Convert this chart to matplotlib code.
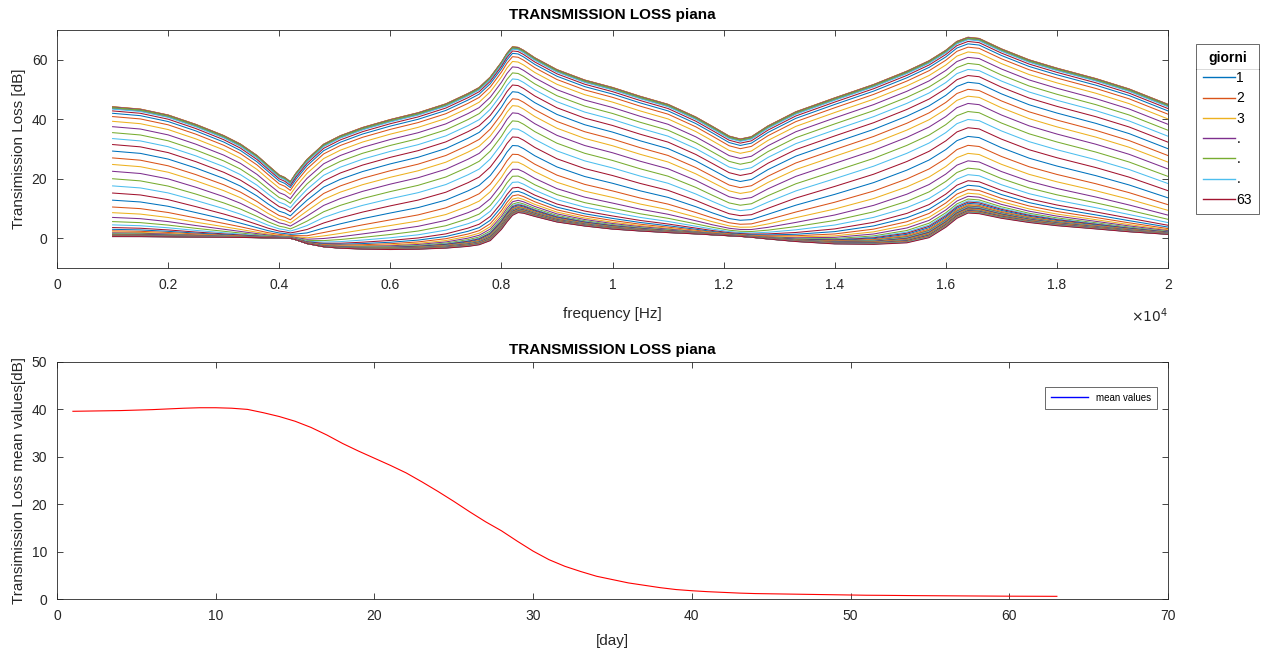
import numpy as np
import matplotlib
matplotlib.use('Agg')
import matplotlib.pyplot as plt
from matplotlib.lines import Line2D
from matplotlib.ticker import FuncFormatter

plt.rcParams['font.family'] = ['Liberation Sans', 'DejaVu Sans']

# frequency grid (Hz) and the two envelopes of the family of curves
freq_hz = [1000, 1500, 2000, 2500, 3000, 3300, 3600, 3800, 4000, 4100, 4200, 4300,
           4500, 4800, 5100, 5500, 6000, 6500, 7000, 7400, 7600, 7800, 8000, 8100,
           8200, 8300, 8400, 8600, 9000, 9500, 10000, 10500, 11000, 11500, 11800,
           12100, 12300, 12500, 12800, 13300, 14000, 14700, 15300, 15700, 16000,
           16200, 16400, 16600, 17000, 17500, 18000, 18700, 19300, 20000]

# day 1 curve (highest)
tl_top = [44.0, 43.2, 41.2, 38.0, 34.2, 31.3, 27.3, 23.8, 20.3, 19.4, 17.8, 21.0,
          26.0, 31.3, 34.2, 37.0, 39.7, 42.0, 45.0, 48.5, 50.5, 54.0, 59.0, 62.0,
          64.2, 64.0, 63.0, 60.5, 56.5, 53.0, 50.5, 47.5, 44.8, 40.5, 37.3,
          34.0, 33.0, 33.8, 37.5, 42.3, 47.0, 51.5, 56.0, 59.5, 63.0,
          66.0, 67.4, 67.0, 63.5, 59.8, 57.0, 53.5, 50.0, 44.8]

# day 63 curve (lowest)
tl_bottom = [0.45, 0.45, 0.4, 0.35, 0.3, 0.25, 0.2, 0.15, 0.1, 0.05, 0.0, -0.5,
             -1.8, -2.9, -3.4, -3.7, -3.9, -3.8, -3.5, -3.0, -2.5, -1.2, 2.5, 5.0,
             7.2, 8.2, 8.0, 7.0, 5.2, 3.9, 2.9, 2.3, 1.8, 1.4, 1.1,
             0.8, 0.6, 0.3, -0.3, -1.2, -2.1, -2.4, -2.1, -0.5, 3.0,
             6.0, 7.8, 7.6, 6.2, 4.9, 3.9, 2.9, 2.0, 1.2]

# level of each day's curve at 1000 Hz
tl_at_1khz = [43.6, 43.65, 43.7, 43.75, 43.85, 43.95, 44.05, 44.15, 44.2, 44.2,
              44.1, 43.9, 43.4, 42.8, 42.0, 40.9, 39.3, 37.5, 35.5, 33.5,
              31.5, 29.3, 27.0, 24.8, 22.5, 20.0, 17.6, 15.2, 12.8, 10.5,
              8.6, 7.0, 5.6, 4.5, 3.6, 3.0, 2.5, 2.1, 1.8, 1.55,
              1.4, 1.3, 1.2, 1.1, 1.05, 1.0, 0.96, 0.92, 0.88, 0.85,
              0.82, 0.79, 0.76, 0.74, 0.72, 0.70, 0.68, 0.66, 0.64, 0.62,
              0.60, 0.58, 0.56]

# mean transmission loss per day (lower plot)
mean_tl = [39.6, 39.65, 39.7, 39.75, 39.85, 39.95, 40.1, 40.25, 40.35, 40.35,
           40.25, 40.0, 39.3, 38.5, 37.5, 36.2, 34.6, 32.8, 31.2, 29.7,
           28.2, 26.6, 24.7, 22.7, 20.6, 18.4, 16.3, 14.4, 12.2, 10.1,
           8.3, 6.9, 5.8, 4.8, 4.1, 3.4, 2.9, 2.4, 2.0, 1.75,
           1.55, 1.4, 1.25, 1.15, 1.1, 1.05, 1.0, 0.95, 0.9, 0.85,
           0.8, 0.78, 0.75, 0.72, 0.7, 0.68, 0.66, 0.64, 0.62, 0.6,
           0.59, 0.58, 0.57]

matlab_colors = ['#0072BD', '#D95319', '#EDB120', '#7E2F8E', '#77AC30', '#4DBEEE', '#A2142F']
legend_labels = ['1', '2', '3', '.', '.', '.', '63']
axis_col = '#262626'
soft = 20.0  # dB width of the blend between the two envelopes

f = np.array(freq_hz, dtype=float)
H = np.array(tl_top)
L = np.array(tl_bottom)

fig = plt.figure(figsize=(12.62, 6.59), dpi=100)
ax1 = fig.add_axes([0.0452, 0.5933, 0.8803, 0.3612])
ax2 = fig.add_axes([0.0452, 0.0910, 0.8803, 0.3597])

# each day: the curve sits 'drop' dB under the top one, floored by the bottom one
for i, s in enumerate(tl_at_1khz):
    excess = max(s - L[0], 0.01)
    drop = H[0] - L[0] - soft * np.log10(10 ** (excess / soft) - 1)
    tl = L + soft * np.log10(1 + 10 ** ((H - drop - L) / soft))
    ax1.plot(f, tl, color=matlab_colors[i % 7], lw=0.75)

ax1.set_xlim(0, 20000)
ax1.set_ylim(-10, 70)
ax1.set_xticks(np.arange(0, 20001, 2000))
ax1.set_yticks([0, 20, 40, 60])
ax1.xaxis.set_major_formatter(FuncFormatter(lambda v, p: '%g' % (v / 1e4)))
ax1.set_title('TRANSMISSION LOSS piana', fontsize=11, fontweight='bold', pad=8)
ax1.set_xlabel('frequency [Hz]', fontsize=11, color=axis_col, labelpad=11)
ax1.set_ylabel('Transimission Loss [dB]', fontsize=11, color=axis_col)
ax1.text(1.0, -0.20, r'$\times10^{4}$', transform=ax1.transAxes,
         ha='right', va='center', fontsize=10, color=axis_col)

handles = [Line2D([], [], color=c, lw=1.0) for c in matlab_colors]
leg = fig.legend(handles, legend_labels, title='giorni', loc='upper left',
                 bbox_to_anchor=(0.9477, 0.9332), fontsize=10, title_fontsize=10,
                 frameon=True, fancybox=False, edgecolor=axis_col,
                 handlelength=2.3, handletextpad=0.1, labelspacing=0.45,
                 borderpad=0.5, borderaxespad=0)
leg.get_title().set_fontweight('bold')
leg.get_frame().set_linewidth(0.6)

ax2.plot(np.arange(1, len(mean_tl) + 1), mean_tl, color='red', lw=0.8)
ax2.set_xlim(0, 70)
ax2.set_ylim(0, 50)
ax2.set_xticks(np.arange(0, 71, 10))
ax2.set_yticks(np.arange(0, 51, 10))
ax2.set_title('TRANSMISSION LOSS piana', fontsize=11, fontweight='bold', pad=6)
ax2.set_xlabel('[day]', fontsize=11, color=axis_col, labelpad=8)
ax2.set_ylabel('Transimission Loss mean values[dB]', fontsize=11, color=axis_col)
leg2 = ax2.legend([Line2D([], [], color='blue', lw=1.0)], ['mean values'],
                  loc='upper right', bbox_to_anchor=(0.990, 0.8945),
                  fontsize=7, frameon=True, fancybox=False, borderaxespad=0,
                  edgecolor=axis_col, handlelength=3.8, borderpad=0.6)
leg2.get_frame().set_linewidth(0.6)

for ax in (ax1, ax2):
    ax.tick_params(direction='in', top=True, right=True, labelsize=10,
                   colors=axis_col, length=4, width=0.6, pad=7)
    for sp in ax.spines.values():
        sp.set_color(axis_col)
        sp.set_linewidth(0.6)

# separator line under the legend title, as in MATLAB
fig.canvas.draw()
W, Hpx = fig.bbox.width, fig.bbox.height
lb = leg.get_window_extent()
tb = leg.get_title().get_window_extent()
ysep = (tb.y0 - 4) / Hpx
fig.add_artist(Line2D([lb.x0 / W, lb.x1 / W], [ysep, ysep], color=axis_col, lw=0.6))

fig.savefig('out.png', dpi=100)
